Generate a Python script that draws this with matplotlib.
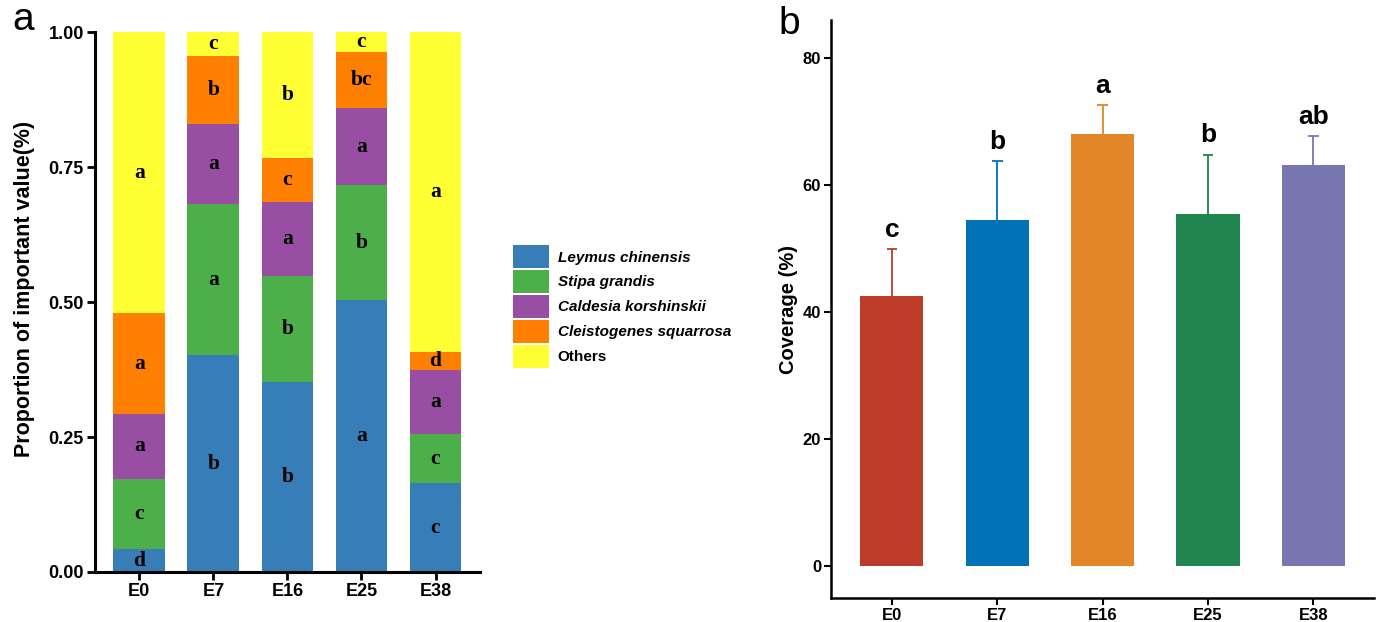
import numpy as np
import matplotlib
matplotlib.use("Agg")
import matplotlib.pyplot as plt
from matplotlib.patches import Patch

plt.rcParams['font.family'] = ['Liberation Sans', 'DejaVu Sans']

# ---- data: panel a (proportion of important value) ----
groups = ['E0', 'E7', 'E16', 'E25', 'E38']
species = ['Leymus chinensis', 'Stipa grandis', 'Caldesia korshinskii',
           'Cleistogenes squarrosa', 'Others']
leymus = [0.042, 0.401, 0.351, 0.504, 0.164]
stipa = [0.131, 0.280, 0.198, 0.212, 0.091]
caldesia = [0.120, 0.148, 0.137, 0.144, 0.120]
cleisto = [0.186, 0.126, 0.080, 0.104, 0.032]
others = [0.521, 0.045, 0.234, 0.036, 0.593]
letters_a = [
    ['d', 'b', 'b', 'a', 'c'],
    ['c', 'a', 'b', 'b', 'c'],
    ['a', 'a', 'a', 'a', 'a'],
    ['a', 'b', 'c', 'bc', 'd'],
    ['a', 'c', 'b', 'c', 'a'],
]
colors_a = ['#377EB8', '#4DAF4A', '#984EA3', '#FF7F00', '#FFFF33']

# ---- data: panel b (coverage) ----
coverage = [42.6, 54.5, 68.1, 55.4, 63.2]
coverage_err = [7.3, 9.3, 4.5, 9.4, 4.5]
letters_b = ['c', 'b', 'a', 'b', 'ab']
colors_b = ['#BC3C29', '#0072B5', '#E18727', '#20854E', '#7876B1']

fig = plt.figure(figsize=(13.8, 6.22), dpi=100)

# ---------------- panel a ----------------
ax1 = fig.add_axes([0.0688, 0.0804, 0.279, 0.868])
x = np.arange(len(groups))
layers = [leymus, stipa, caldesia, cleisto, others]
bottom = np.zeros(len(groups))
for i, vals in enumerate(layers):
    vals = np.array(vals)
    ax1.bar(x, vals, width=0.7, bottom=bottom, color=colors_a[i], linewidth=0)
    for j in range(len(groups)):
        ax1.text(x[j], bottom[j] + vals[j] / 2, letters_a[i][j], ha='center', va='center',
                 fontsize=15.5, fontweight='bold', family=['Liberation Serif'], color='black')
    bottom = bottom + vals

ax1.set_xlim(-0.6, 4.6)
ax1.set_ylim(0, 1.0)
ax1.set_yticks([0, 0.25, 0.5, 0.75, 1.0])
ax1.set_yticklabels(['0.00', '0.25', '0.50', '0.75', '1.00'])
ax1.set_xticks(x)
ax1.set_xticklabels(groups)
ax1.set_ylabel('Proportion of important value(%)', fontsize=15.5, fontweight='bold')
ax1.yaxis.set_label_coords(-0.155, 0.525)
for lab in ax1.get_xticklabels() + ax1.get_yticklabels():
    lab.set_fontweight('bold')
    lab.set_fontsize(13)
ax1.spines['top'].set_visible(False)
ax1.spines['right'].set_visible(False)
ax1.spines['left'].set_linewidth(2.2)
ax1.spines['bottom'].set_linewidth(2.2)
ax1.tick_params(axis='both', width=2, length=6, pad=2)
ax1.text(-0.215, 1.022, 'a', transform=ax1.transAxes, fontsize=28, va='center', ha='left')

# legend
handles = [Patch(facecolor=c, edgecolor='none') for c in colors_a]
leg = fig.legend(handles, species, loc='upper left', bbox_to_anchor=(0.3665, 0.618),
                 frameon=False, handlelength=2.3, handleheight=1.93, handletextpad=0.6,
                 labelspacing=0.13, borderpad=0,
                 prop={'size': 11, 'weight': 'bold', 'style': 'italic'})
leg.get_texts()[-1].set_fontstyle('normal')

# ---------------- panel b ----------------
ax2 = fig.add_axes([0.602, 0.0386, 0.394, 0.929])
ax2.bar(x, coverage, width=0.6, color=colors_b, linewidth=0)
tops = np.array(coverage) + np.array(coverage_err)
ax2.vlines(x, coverage, tops, colors=colors_b, linewidth=1.3)
ax2.hlines(tops, x - 0.05, x + 0.05, colors=colors_b, linewidth=1.3)
for j in range(len(groups)):
    ax2.text(x[j], tops[j] + 1.2, letters_b[j], ha='center', va='bottom',
             fontsize=19, fontweight='bold')
ax2.set_xlim(-0.58, 4.58)
ax2.set_ylim(-5, 86)
ax2.set_yticks([0, 20, 40, 60, 80])
ax2.set_xticks(x)
ax2.set_xticklabels(groups)
ax2.set_ylabel('Coverage (%)', fontsize=14.5, fontweight='bold', labelpad=3)
for lab in ax2.get_xticklabels() + ax2.get_yticklabels():
    lab.set_fontweight('bold')
    lab.set_fontsize(12)
ax2.spines['top'].set_visible(False)
ax2.spines['right'].set_visible(False)
ax2.spines['left'].set_linewidth(1.8)
ax2.spines['bottom'].set_linewidth(1.8)
ax2.tick_params(axis='both', width=1.5, length=5, pad=2)
ax2.text(-0.097, 0.993, 'b', transform=ax2.transAxes, fontsize=28, va='center', ha='left')

fig.savefig('out.png', dpi=100)
